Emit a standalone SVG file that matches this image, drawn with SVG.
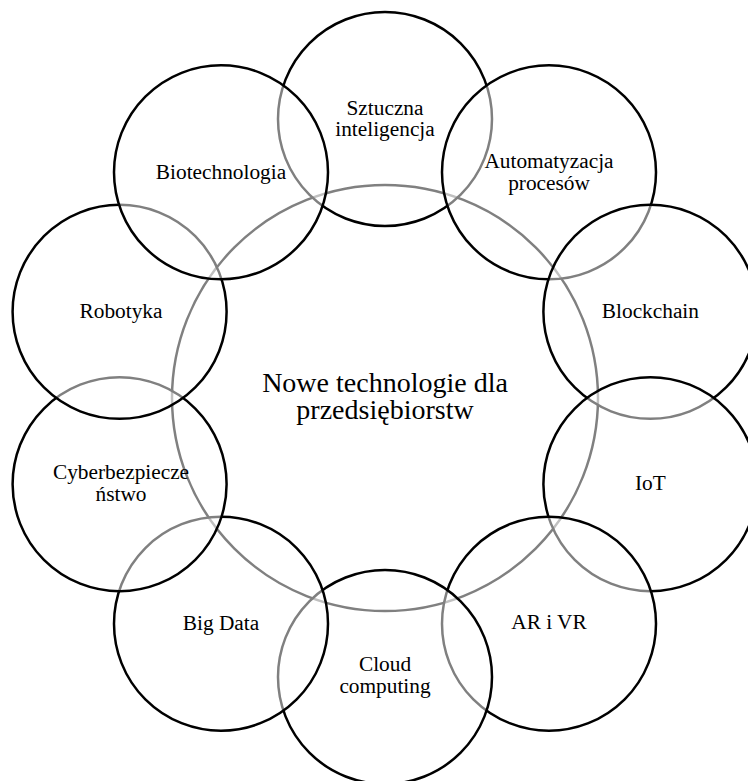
<svg xmlns="http://www.w3.org/2000/svg" width="748" height="781" viewBox="0 0 748 781">
  <style>
    .bg { fill: #ffffff; }
    .hub { fill: #ffffff; fill-opacity: 0.5; stroke: #000000; stroke-width: 2.5; }
    .sat { fill: #ffffff; fill-opacity: 0.5; stroke: #000000; stroke-width: 2.5; }
    text { font-family: "Liberation Serif", "Times New Roman", serif; fill: #000000; text-anchor: middle; }
    .lbl { font-size: 21.33px; }
    .hub-lbl { font-size: 28px; }
  </style>
  <rect class="bg" x="0" y="0" width="748" height="781"/>

  <!-- no connectors: radial layout of overlapping circles -->
  <g id="connectors"/>

  <g id="hub">
    <circle class="hub" cx="385" cy="398" r="213"/>
    <text class="hub-lbl" x="385" y="391.5">Nowe technologie dla</text>
    <text class="hub-lbl" x="385" y="419">przedsiębiorstw</text>
  </g>

  <g id="ai">
    <circle class="sat" cx="385" cy="119" r="107"/>
    <text class="lbl" x="385" y="114.5">Sztuczna</text>
    <text class="lbl" x="385" y="136">inteligencja</text>
  </g>

  <g id="automation">
    <circle class="sat" cx="549" cy="172.3" r="107"/>
    <text class="lbl" x="549" y="168">Automatyzacja</text>
    <text class="lbl" x="549" y="189.5">procesów</text>
  </g>

  <g id="blockchain">
    <circle class="sat" cx="650.4" cy="311.8" r="107"/>
    <text class="lbl" x="650.4" y="318">Blockchain</text>
  </g>

  <g id="iot">
    <circle class="sat" cx="650.4" cy="484.2" r="107"/>
    <text class="lbl" x="650.4" y="489.5">IoT</text>
  </g>

  <g id="ar-vr">
    <circle class="sat" cx="549" cy="623.7" r="107"/>
    <text class="lbl" x="549" y="629">AR i VR</text>
  </g>

  <g id="cloud">
    <circle class="sat" cx="385" cy="677" r="107"/>
    <text class="lbl" x="385" y="671">Cloud</text>
    <text class="lbl" x="385" y="692.5">computing</text>
  </g>

  <g id="big-data">
    <circle class="sat" cx="221" cy="623.7" r="107"/>
    <text class="lbl" x="221" y="629.5">Big Data</text>
  </g>

  <g id="cybersecurity">
    <circle class="sat" cx="119.6" cy="484.2" r="107"/>
    <text class="lbl" x="121" y="479.3">Cyberbezpiecze</text>
    <text class="lbl" x="121" y="500.5">ństwo</text>
  </g>

  <g id="robotics">
    <circle class="sat" cx="119.6" cy="311.8" r="107"/>
    <text class="lbl" x="121" y="318">Robotyka</text>
  </g>

  <g id="biotech">
    <circle class="sat" cx="221" cy="172.3" r="107"/>
    <text class="lbl" x="221" y="178.5">Biotechnologia</text>
  </g>
</svg>
